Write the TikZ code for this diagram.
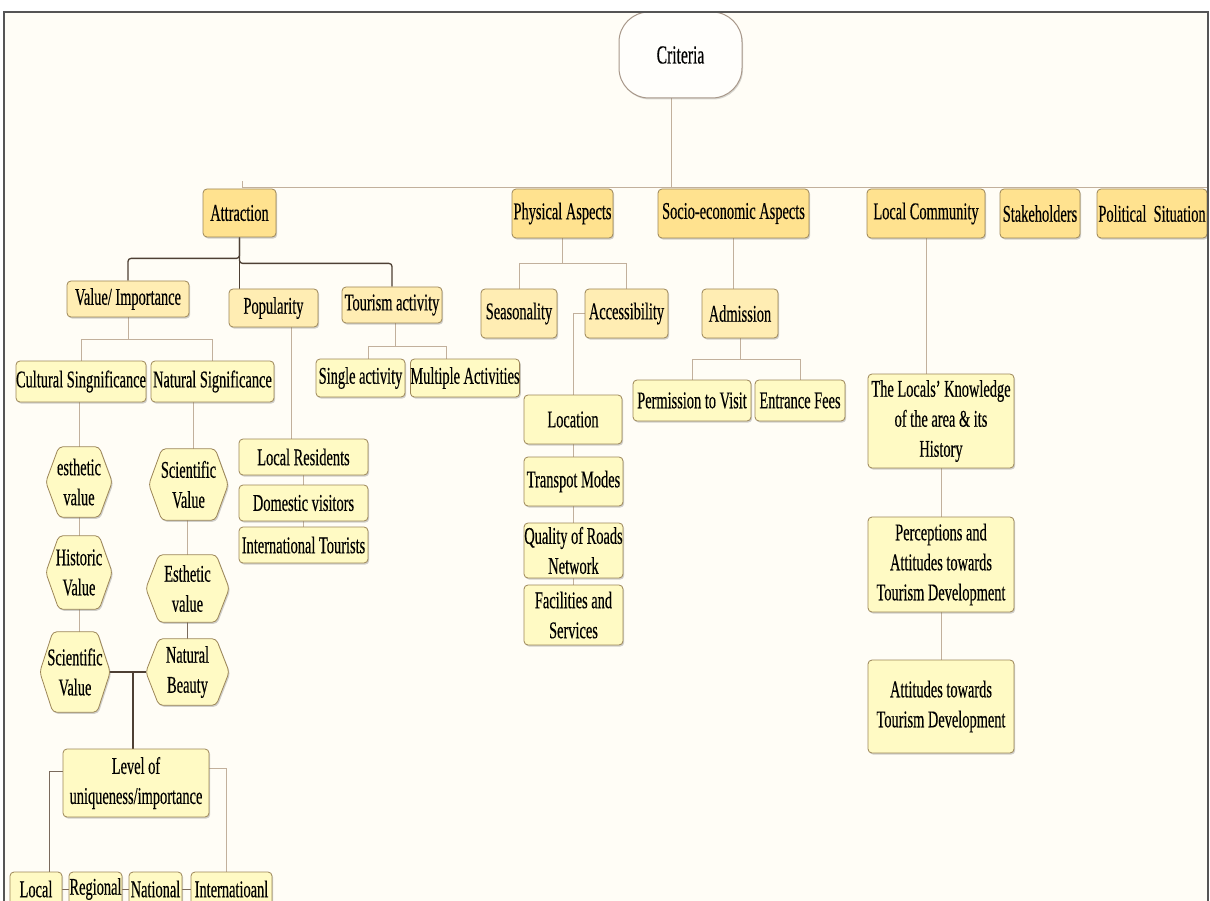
\documentclass[tikz,border=0pt]{standalone}
\usepackage{fontspec}
\setmainfont{Liberation Serif}[FakeStretch=0.6,FakeBold=0.35]
\usetikzlibrary{shadows,backgrounds}
\definecolor{bgc}{HTML}{FFFDF6}
\definecolor{topfill}{HTML}{FFE28F}
\definecolor{midfill}{HTML}{FFEDB3}
\definecolor{lowfill}{HTML}{FFFAC4}
\definecolor{boxline}{HTML}{9C8658}
\definecolor{lightline}{HTML}{C2B09C}
\definecolor{darkline}{HTML}{4E4034}
\definecolor{medline}{HTML}{7A6A5C}
\definecolor{framec}{HTML}{555555}
\definecolor{critline}{HTML}{A8988A}
\pgfdeclarelayer{bgl}\pgfdeclarelayer{lines}\pgfdeclarelayer{shapes}
\pgfsetlayers{bgl,lines,shapes,main}
\newcommand\hexnode[6]{%
  \node[hextxt, minimum width=#4pt, minimum height=#5pt] (#1) at (#2,#3) {#6};
  \begin{pgfonlayer}{shapes}
  \draw[hexshape] (#1.west) -- ([xshift=13pt]#1.north west) -- ([xshift=-13pt]#1.north east) -- (#1.east) -- ([xshift=-13pt]#1.south east) -- ([xshift=13pt]#1.south west) -- cycle;
  \end{pgfonlayer}}
\tikzset{
  txt/.style={font=\fontsize{24}{30}\selectfont, align=center, inner sep=0pt, text=black},
  shadowed/.style={drop shadow={shadow xshift=1.2pt, shadow yshift=-1.6pt, opacity=0.3, fill=black!60}},
  boxbase/.style={txt, rectangle, rounded corners=4pt, draw=boxline, line width=0.8pt, shadowed},
  topbox/.style={boxbase, fill=topfill},
  midbox/.style={boxbase, fill=midfill},
  lowbox/.style={boxbase, fill=lowfill},
  hextxt/.style={txt, rectangle, draw=none},
  hexshape/.style={fill=lowfill, draw=boxline, line width=0.8pt, rounded corners=4pt, shadowed},
  lineL/.style={draw=lightline, line width=1pt},
  lineM/.style={draw=medline, line width=1pt},
  lineD/.style={draw=darkline, line width=1.3pt, rounded corners=3pt},
}
\begin{document}
\begin{tikzpicture}[x=1pt,y=-1pt]
\useasboundingbox (0,0) rectangle (1210,901);
\begin{pgfonlayer}{bgl}
\fill[white] (0,0) rectangle (1210,901);
\fill[bgc] (4,12) rectangle (1208,901);
\end{pgfonlayer}

% root
\node[txt, rectangle, rounded corners=30pt, draw=critline, line width=1pt, fill=white!60!bgc,
  minimum width=123pt, minimum height=86pt, font=\fontsize{26}{30}\selectfont,
  drop shadow={shadow xshift=1pt, shadow yshift=-1.5pt, opacity=0.25, fill=black!60}] (crit) at (680.5,55) {Criteria};

% top level
\node[topbox, minimum width=73pt, minimum height=48pt] (attr) at (239.5,213) {Attraction};
\node[topbox, minimum width=101pt, minimum height=49pt] (phys) at (562.5,213.5) {Physical Aspects};
\node[topbox, minimum width=151pt, minimum height=49pt] (socio) at (733.5,213.5) {Socio-economic Aspects};
\node[topbox, minimum width=118pt, minimum height=49pt] (local) at (926,213.5) {Local Community};
\node[topbox, minimum width=80pt, minimum height=49pt] (stake) at (1040,213.5) {Stakeholders};
\node[topbox, minimum width=110pt, minimum height=49pt] (polit) at (1152,213.5) {Political~ Situation};

% second level
\node[midbox, minimum width=122pt, minimum height=36pt] (value) at (128,299) {Value/ Importance};
\node[midbox, minimum width=89pt, minimum height=38pt] (popul) at (273.5,308) {Popularity};
\node[midbox, minimum width=100pt, minimum height=36pt] (tour) at (392,305) {Tourism activity};
\node[midbox, minimum width=76pt, minimum height=49pt] (season) at (519,313.5) {Seasonality};
\node[midbox, minimum width=83pt, minimum height=49pt] (access) at (626.5,313.5) {Accessibility};
\node[midbox, minimum width=76pt, minimum height=49pt] (admis) at (740,313.5) {Admission};

% third level
\node[lowbox, minimum width=130pt, minimum height=41pt] (cult) at (81,381.5) {Cultural Singnificance};
\node[lowbox, minimum width=123pt, minimum height=41pt] (nat) at (212.5,381.5) {Natural Significance};
\node[lowbox, minimum width=89pt, minimum height=38pt] (single) at (360.5,378) {Single activity};
\node[lowbox, minimum width=106pt, minimum height=38pt] (multi) at (465,378) {Multiple Activities};
\node[lowbox, minimum width=129pt, minimum height=36pt] (resid) at (303.5,457) {Local Residents};
\node[lowbox, minimum width=129pt, minimum height=36pt] (domes) at (303.5,503) {Domestic visitors};
\node[lowbox, minimum width=129pt, minimum height=36pt] (intl) at (303.5,545) {International Tourists};
\node[lowbox, minimum width=98pt, minimum height=49pt] (locat) at (573,419.5) {Location};
\node[lowbox, minimum width=99pt, minimum height=49pt] (trans) at (573.5,481.5) {Transpot Modes};
\node[lowbox, minimum width=99pt, minimum height=55pt] (qual) at (573.5,550.5) {Quality of Roads\\Network};
\node[lowbox, minimum width=99pt, minimum height=60pt] (facil) at (573.5,615) {Facilities and\\Services};
\node[lowbox, minimum width=118pt, minimum height=41pt] (perm) at (692,400.5) {Permission to Visit};
\node[lowbox, minimum width=90pt, minimum height=41pt] (fees) at (800,400.5) {Entrance Fees};
\node[lowbox, minimum width=146pt, minimum height=94pt] (know) at (941,421) {The Locals{\char"27} Knowledge\\of the area \& its\\History};
\node[lowbox, minimum width=146pt, minimum height=95pt] (perc) at (941,564.5) {Perceptions and\\Attitudes towards\\Tourism Development};
\node[lowbox, minimum width=146pt, minimum height=93pt] (att) at (941,706.5) {Attitudes towards\\Tourism Development};
\node[lowbox, minimum width=146pt, minimum height=68pt] (level) at (136,783) {Level of\\uniqueness/importance};
\node[lowbox, minimum width=52pt, minimum height=34pt] (blocal) at (36,889) {Local};
\node[lowbox, minimum width=53pt, minimum height=34pt] (bregional) at (95.5,889) {Regional};
\node[lowbox, minimum width=53pt, minimum height=34pt] (bnational) at (155.5,889) {National};
\node[lowbox, minimum width=81pt, minimum height=34pt] (bintl) at (231.5,889) {Internatioanl};

% hexagons
\hexnode{hexE}{79}{482}{66}{70}{esthetic\\value}
\hexnode{hexH}{79}{572.5}{66}{73}{Historic\\Value}
\hexnode{hexSL}{75}{672}{70}{80}{Scientific\\Value}
\hexnode{hexSR}{188.5}{484.5}{79}{71}{Scientific\\Value}
\hexnode{hexER}{187.5}{588.5}{83}{67}{Esthetic\\value}
\hexnode{hexB}{187.5}{672}{83}{66}{Natural\\Beauty}

% connectors
\begin{pgfonlayer}{lines}
\coordinate (cj) at ([xshift=-9.5pt]crit.south);
\coordinate (barL) at (242,188);
\coordinate (barR) at (1208,188);
\draw[lineL] (cj) -- (cj |- barR);
\draw[lineL] (barL) -- (barR);
\draw[lineL] (barL) -- ++(0,-7);

\draw[lineD] (attr.south) -- ++(0,21) -| (value.north);
\draw[lineD] (attr.south) -- ++(0,26) -| (tour.north);
\draw[lineD] (attr.south) -- (attr.south |- popul.north);

\draw[lineL] (value.south) -- ++(0,22) coordinate (vj);
\draw[lineL] (cult.north) |- (vj) -| (nat.north);
\draw[lineL] (hexE.north) -- (hexE.north |- cult.south);
\draw[lineL] (hexE.south) -- (hexH.north);
\draw[lineL] (hexH.south) -- (hexH.south |- hexSL.north);
\coordinate (nj) at ([xshift=4.5pt]hexSR.north);
\draw[lineL] (nj) -- (nj |- nat.south);
\draw[lineL] (hexER.north) -- (hexER.north |- hexSR.south);
\draw[lineM] (hexER.south) -- (hexB.north);
\draw[lineD] (hexSL.east) -- (hexB.west);
\coordinate (lj) at (133,672);
\draw[lineD] (lj) -- (lj |- level.north);
\draw[lineM] ([yshift=12pt]level.west) -| ([xshift=13pt]blocal.north);
\draw[lineL] ([yshift=15pt]level.east) -| ([xshift=-5.5pt]bintl.north);
\draw[lineM] (blocal.east) -- (bregional.west);
\draw[lineM] (bregional.east) -- (bnational.west);
\draw[lineM] (bnational.east) -- (bintl.west);

\coordinate (pj0) at ([xshift=17.5pt]popul.south);
\draw[lineL] (pj0) -- (pj0 |- resid.north);
\draw[lineL] (resid.south) -- (domes.north);
\draw[lineL] (domes.south) -- (intl.north);

\draw[lineL] ([xshift=3pt]tour.south) -- ++(0,23) coordinate (tj);
\draw[lineL] ([xshift=7.5pt]single.north) |- (tj) -| ([xshift=-19pt]multi.north);

\draw[lineL] (phys.south) -- ++(0,25) coordinate (phj);
\draw[lineL] (season.north) |- (phj) -| (access.north);
\draw[lineL] (access.west) -| (locat.north);
\draw[lineL] (locat.south) -- (locat.south |- trans.north);
\draw[lineL] (trans.south) -- (trans.south |- qual.north);
\draw[lineL] (qual.south) -- (qual.south |- facil.north);

\draw[lineL] (socio.south) -- (socio.south |- admis.north);
\draw[lineL] (admis.south) -- ++(0,21) coordinate (aj);
\draw[lineL] (perm.north) |- (aj) -| (fees.north);

\draw[lineL] (local.south) -- (local.south |- know.north);
\draw[lineL] (know.south) -- (perc.north);
\draw[lineL] (perc.south) -- (att.north);
\end{pgfonlayer}

% frame
\draw[framec, line width=1.6pt] (4,901) -- (4,12) -- (1208,12) -- (1208,901);
\end{tikzpicture}
\end{document}
